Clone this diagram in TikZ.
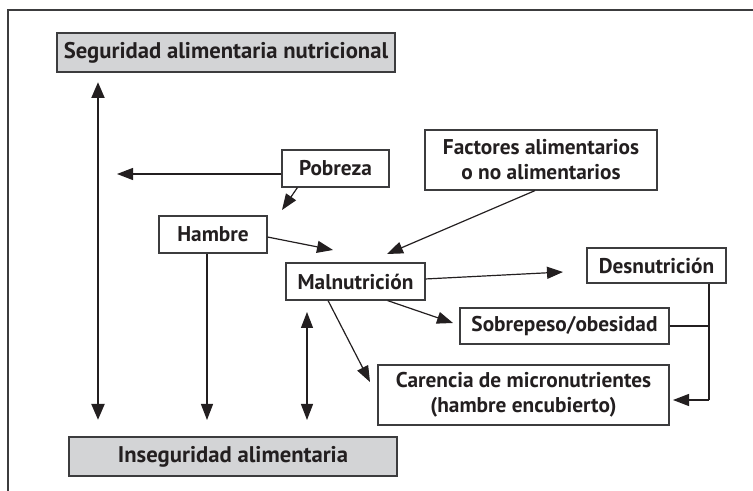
\documentclass[tikz,border=0pt]{standalone}
\usepackage{fontspec}
\setmainfont{PT Sans}
\usetikzlibrary{arrows.meta}
\definecolor{boxgray}{RGB}{211,212,214}
\definecolor{linegray}{RGB}{60,60,62}
\definecolor{ink}{RGB}{35,31,32}
\begin{document}
\begin{tikzpicture}[x=0.75pt,y=0.75pt,yscale=-1,xscale=1,
  box/.style={draw=linegray,line width=0.9pt,fill=white,inner sep=0pt,align=center,
    font=\bfseries\fontsize{16}{18.75}\selectfont,text=ink},
  titlebox/.style={box,fill=boxgray,font=\bfseries\fontsize{17}{19}\selectfont},
  link/.style={draw=ink,line width=0.9pt,-{Triangle[length=12pt,width=9pt]}},
  biglink/.style={draw=ink,line width=2.2pt,{Triangle[length=12pt,width=9.5pt]}-{Triangle[length=12pt,width=9.5pt]}}]
\useasboundingbox (0,0) rectangle (753,491);

%Frame
\draw [linegray,line width=0.9pt] (8,491) -- (8,10) -- (753,10) ;

% Text Node
\node [titlebox,minimum width=253.5pt,minimum height=29.25pt] (seg) at (226,52.5) {Seguridad alimentaria nutricional};
% Text Node
\node [titlebox,minimum width=246pt,minimum height=29.25pt] (inseg) at (233,456.5) {Inseguridad alimentaria};
% Text Node
\node [box,minimum width=80.25pt,minimum height=27.75pt] (pob) at (335.5,168.5) {Pobreza};
% Text Node
\node [box,minimum width=81pt,minimum height=27.75pt] (ham) at (213,234.5) {Hambre};
% Text Node
\node [box,minimum width=104.25pt,minimum height=27.75pt] (mal) at (355.5,281.5) {Malnutrición};
% Text Node
\node [box,minimum width=174pt,minimum height=45pt] (fac) at (541,160) {Factores alimentarios\\o no alimentarios};
% Text Node
\node [box,minimum width=104.25pt,minimum height=26.25pt] (des) at (656.5,265.5) {Desnutrición};
% Text Node
\node [box,minimum width=156.75pt,minimum height=27pt] (sob) at (564.5,326) {Sobrepeso/obesidad};
% Text Node
\node [box,minimum width=218.25pt,minimum height=45pt] (car) at (523.5,395) {Carencia de micronutrientes\\(hambre encubierto)};

% free ends
\coordinate (sa) at (98,82);
\coordinate (sb) at (98,420);
\coordinate (pl) at (117,174);
\coordinate (ph) at (282,210);
\coordinate (hm) at (333,250);
\coordinate (fm) at (387,254);
\coordinate (hi) at (207,420);
\coordinate (ma) at (307,312);
\coordinate (mb) at (307,420);
\coordinate (md) at (563,272);
\coordinate (ms) at (453,323);
\coordinate (mc) at (370,382);
\coordinate (dc) at (709,400);
\coordinate (cr) at (673,400);

%Straight Lines
\draw [biglink] (sa) -- (sb) ;
\draw [link] (pob.west |- pl) -- (pl) ;
\draw [link] ([xshift=12pt]pob.south west) -- (ph) ;
\draw [link] ([yshift=1.9pt]ham.east) -- (hm) ;
\draw [link] ([xshift=-4.5pt]fac.south) -- (fm) ;
\draw [link] (ham.south -| hi) -- (hi) ;
\draw [link,{Triangle[length=12pt,width=9pt]}-{Triangle[length=12pt,width=9pt]}] (ma) -- (mb) ;
\draw [link] ([yshift=-1.9pt]mal.east) -- (md) ;
\draw [link] ([xshift=-28.5pt]mal.south east) -- (ms) ;
\draw [link] ([xshift=32pt]mal.south west) -- (mc) ;
\draw [draw=ink,line width=0.9pt] (des.south -| dc) -- (dc) ;
\draw [draw=ink,line width=0.9pt] (sob.east) -- (sob.east -| dc) ;
\draw [link] (dc) -- (cr) ;

\end{tikzpicture}
\end{document}
